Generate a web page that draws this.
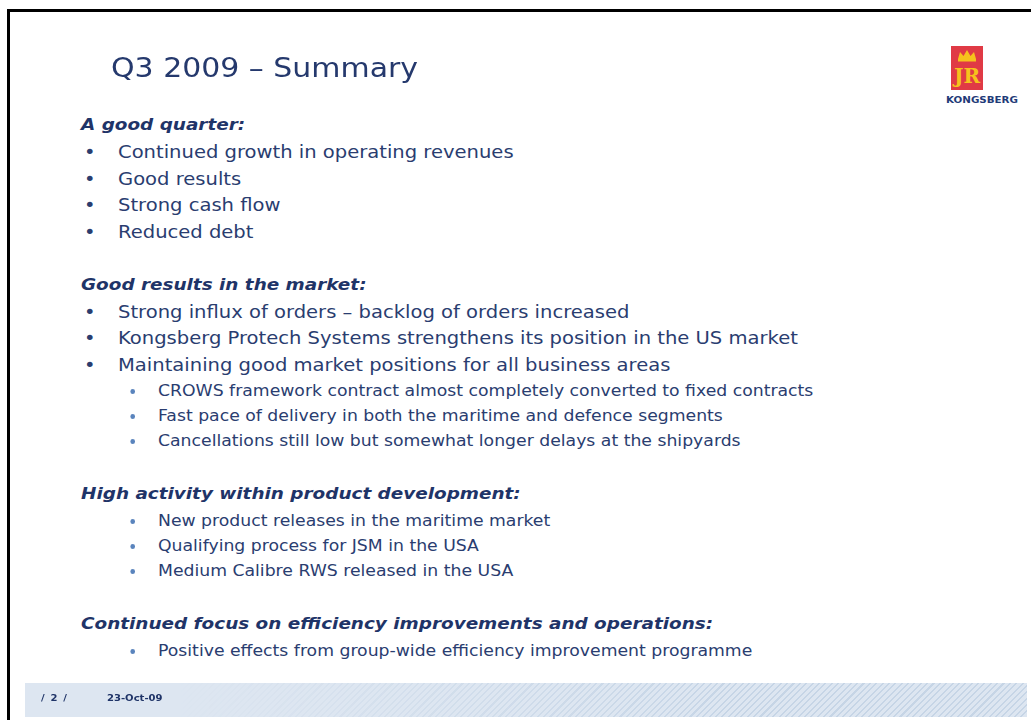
<!DOCTYPE html>
<html>
<head>
<meta charset="utf-8">
<script src="https://cdn.jsdelivr.net/npm/chart.js@4"></script>
<style>
  html, body { margin: 0; padding: 0; background: #fff; }
  #slide {
    position: relative; width: 1031px; height: 720px; overflow: hidden;
    font-family: "DejaVu Sans", Verdana, sans-serif; color: #2a3d70;
  }
  .frameTop  { position: absolute; left: 7px; top: 9px; width: 1030px; height: 3px; background: #000; }
  .frameLeft { position: absolute; left: 7px; top: 9px; width: 3px; height: 720px; background: #000; }
  /* the slide is a little wider than tall: every text line is stretched sideways */
  .wide { transform-origin: 0 50%; }
  #title {
    position: absolute; left: 111px; top: 52px; font-size: 26.5px; color: #25396d;
    white-space: nowrap; line-height: 32px; transform: scaleX(1.13);
  }
  .line { position: absolute; white-space: nowrap; line-height: 20px; transform: translateY(-50%) scaleX(1.15); }
  .head { left: 81px; font-size: 16px; font-weight: bold; font-style: italic; color: #1f3468; }
  .main { left: 118px; font-size: 17px; }
  .main::before { content: "\2022"; position: absolute; left: -29.5px; }
  .sub  { left: 158px; font-size: 15px; }
  .sub::before {
    content: ""; position: absolute; left: -24.5px; top: 8px; width: 4.5px; height: 5px;
    border-radius: 50%; background: #5a84bd;
  }
  #footer {
    position: absolute; left: 25px; top: 683px; width: 1002px; height: 34px; background: #dde6f1;
  }
  #footer .stripes {
    position: absolute; inset: 0;
    background: repeating-linear-gradient(135deg, transparent 0 3px, #c6d5e6 3px 4.5px);
    -webkit-mask-image: linear-gradient(to right, transparent 15%, #000 70%);
    mask-image: linear-gradient(to right, transparent 15%, #000 70%);
  }
  #footer span {
    position: absolute; top: 10px; font-size: 8.5px; font-weight: bold; color: #1f3468;
    transform: scaleX(1.18); transform-origin: 0 50%; white-space: nowrap;
  }
  #logo { position: absolute; left: 944px; top: 45px; width: 76px; height: 62px; }
</style>
</head>
<body>
<div id="slide">
  <div class="frameTop"></div>
  <div class="frameLeft"></div>
  <div id="title" class="wide"></div>
  <svg id="logo" viewBox="0 0 76 62">
    <rect x="7" y="1" width="32" height="44" fill="#e03a45"/>
    <path d="M14 14 L16 7 L19.5 11 L23 5 L26.5 11 L30 7 L32 14 Z" fill="#f6c21c"/>
    <rect x="14" y="14" width="18" height="2.5" fill="#f6c21c"/>
    <text x="23" y="38" text-anchor="middle" font-family="DejaVu Serif, serif" font-size="20" font-weight="bold" fill="#f6c21c">JR</text>
    <text x="38" y="58" text-anchor="middle" font-family="DejaVu Sans, sans-serif" font-size="9.2" font-weight="bold" fill="#1f3b78" textLength="72" lengthAdjust="spacingAndGlyphs">KONGSBERG</text>
  </svg>
  <div id="content"></div>
  <div id="footer">
    <div class="stripes"></div>
    <span id="pageNo" style="left:16px; letter-spacing:1px"></span>
    <span id="dateLbl" style="left:82px"></span>
  </div>
</div>
<script>
// slide texts
const titleText = 'Q3 2009 \u2013 Summary';
const pageLabel = '/ 2 /';
const dateLabel = '23-Oct-09';

const headings = [
  'A good quarter:',
  'Good results in the market:',
  'High activity within product development:',
  'Continued focus on efficiency improvements and operations:'
];

const quarterBullets = [
  'Continued growth in operating revenues',
  'Good results',
  'Strong cash flow',
  'Reduced debt'
];

const marketBullets = [
  'Strong influx of orders \u2013 backlog of orders increased',
  'Kongsberg Protech Systems strengthens its position in the US market',
  'Maintaining good market positions for all business areas'
];
const marketSubBullets = [
  'CROWS framework contract almost completely converted to fixed contracts',
  'Fast pace of delivery in both the maritime and defence segments',
  'Cancellations still low but somewhat longer delays at the shipyards'
];

const productSubBullets = [
  'New product releases in the maritime market',
  'Qualifying process for JSM in the USA',
  'Medium Calibre RWS released in the USA'
];

const efficiencySubBullets = [
  'Positive effects from group-wide efficiency improvement programme'
];

document.getElementById('title').textContent = titleText;
document.getElementById('pageNo').textContent = pageLabel;
document.getElementById('dateLbl').textContent = dateLabel;

// sections in order: heading, main bullets, sub bullets
const sections = [
  [headings[0], quarterBullets, []],
  [headings[1], marketBullets, marketSubBullets],
  [headings[2], [], productSubBullets],
  [headings[3], [], efficiencySubBullets]
];

const content = document.getElementById('content');
let y = 125;
let prev = null;
function addLine(cls, text) {
  if (prev !== null) {
    if (cls === 'head') y += 53;
    else if (prev === 'head') y += 27;
    else if (cls === 'sub' && prev === 'sub') y += 25;
    else if (cls === 'sub') y += 26;
    else y += 26.5;
  }
  const el = document.createElement('div');
  el.className = 'line ' + cls + ' wide';
  el.style.top = y + 'px';
  el.textContent = text;
  content.appendChild(el);
  prev = cls;
}

sections.forEach(function (s) {
  addLine('head', s[0]);
  s[1].forEach(function (t) { addLine('main', t); });
  s[2].forEach(function (t) { addLine('sub', t); });
});
</script>
</body>
</html>
